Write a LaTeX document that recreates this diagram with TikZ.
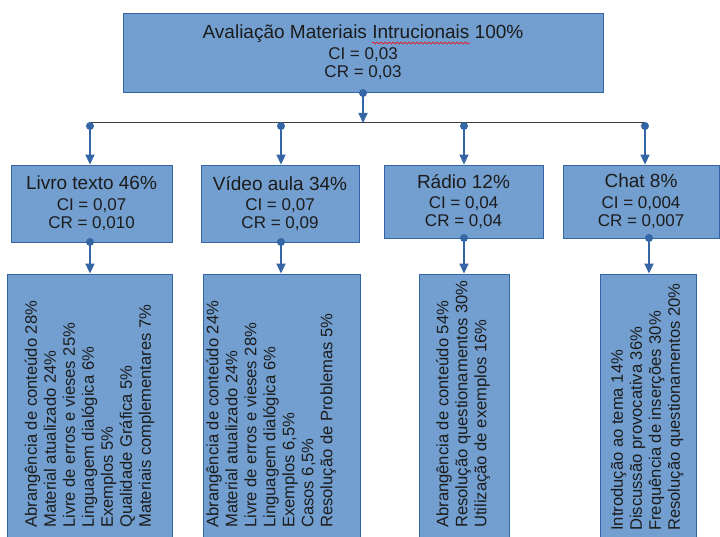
\documentclass[tikz,border=0pt]{standalone}
\usepackage{fontspec}
\setmainfont{Liberation Sans}
\usetikzlibrary{arrows.meta,decorations.pathmorphing}
\definecolor{boxfill}{HTML}{729FCF}
\definecolor{boxline}{HTML}{3465A4}
\definecolor{txt}{HTML}{1C1C1C}
\begin{document}
\begin{tikzpicture}[x=1pt,y=1pt,
  box/.style={draw=boxline, fill=boxfill, line width=0.8pt, inner sep=0pt, text=txt},
  lvl/.style={box, align=center, font=\fontsize{17}{18.3}\selectfont},
  conn/.style={draw=boxline, line width=1.5pt, -{Triangle[length=10pt,width=9pt]}},
  bar/.style={draw=black!75, line width=1pt},
  dot/.style={circle, fill=boxline, inner sep=0pt, minimum size=8pt},
  items/.style={rotate=90, anchor=west, align=left, inner sep=0pt, text=txt, font=\fontsize{16.6}{19}\selectfont},
  ttl/.style={font=\fontsize{19}{20}\selectfont}
]
\useasboundingbox (0,0) rectangle (720,536);
\clip (0,0) rectangle (720,536);

% top box
\node[lvl, minimum width=480pt, minimum height=79pt] (main) at (363,483.5)
  {{\fontsize{19}{20}\selectfont Avaliação Materiais Intrucionais 100\%}\\[2.4pt]CI = 0,03\\CR = 0,03};
\draw[red, line width=0.6pt, decorate, decoration={snake, amplitude=0.9pt, segment length=4pt}]
  (372,493) -- (470,493);

% level 2
\node[lvl, minimum width=161pt, minimum height=77pt] (livro) at (91.5,332.5)
  {{\fontsize{19}{20}\selectfont Livro texto 46\%}\\[2pt]CI = 0,07\\CR = 0,010};
\node[lvl, minimum width=158pt, minimum height=77pt] (video) at (280,332.5)
  {{\fontsize{19}{20}\selectfont Vídeo aula 34\%}\\[2pt]CI = 0,07\\CR = 0,09};
\node[lvl, minimum width=159pt, minimum height=73pt] (radio) at (463.5,334.5)
  {{\fontsize{19}{20}\selectfont Rádio 12\%}\\[2pt]CI = 0,04\\CR = 0,04};
\node[lvl, minimum width=156pt, minimum height=73pt] (chat) at (641,334.5)
  {{\fontsize{19}{20}\selectfont Chat 8\%}\\[2pt]CI = 0,004\\CR = 0,007};

% level 3 boxes
\node[box, minimum width=165pt, minimum height=272pt] (livroI) at (89.5,126) {};
\node[box, minimum width=157pt, minimum height=272pt] (videoI) at (281.5,126) {};
\node[box, minimum width=90pt, minimum height=272pt] (radioI) at (464,126) {};
\node[box, minimum width=96pt, minimum height=272pt] (chatI) at (648,126) {};

\node[items] (livroT) at (89.5,8) {Abrangência de conteúdo 28\%\\Material atualizado 24\%\\Livre de erros e vieses 25\%\\Linguagem dialógica 6\%\\Exemplos 5\%\\Qualidade Gráfica 5\%\\Materiais complementares 7\%};
\node[items] (videoT) at (271,8) {Abrangência de conteúdo 24\%\\Material atualizado 24\%\\Livre de erros e vieses 28\%\\Linguagem dialógica 6\%\\Exemplos 6,5\%\\Casos 6,5\%\\Resolução de Problemas 5\%};
\node[items] (radioT) at (463,8) {Abrangência de conteúdo 54\%\\Resolução questionamentos 30\%\\Utilização de exemplos 16\%};
\node[items] (chatT) at (647,5) {Introdução ao tema 14\%\\Discussão provocativa 36\%\\Frequência de inserções 30\%\\Resolução questionamentos 20\%};

% coordinates
\coordinate (dtop) at (363,443);
\coordinate (barL) at (90,413);
\coordinate (barR) at (645,413);
\coordinate (b1) at (90,410);
\coordinate (b2) at (281,410);
\coordinate (b3) at (464,410);
\coordinate (b4) at (645,410);
\coordinate (e1) at (90,294);
\coordinate (e2) at (281,294);
\coordinate (e3) at (464,298);
\coordinate (e4) at (649,298);

% connectors
\draw[bar] (barL) -- (barR);
\draw[conn] (dtop) -- (dtop |- barL);
\draw[conn] (b1) -- (b1 |- livro.north);
\draw[conn] (b2) -- (b2 |- video.north);
\draw[conn] (b3) -- (b3 |- radio.north);
\draw[conn] (b4) -- (b4 |- chat.north);
\draw[conn] (e1) -- (e1 |- livroI.north);
\draw[conn] (e2) -- (e2 |- videoI.north);
\draw[conn] (e3) -- (e3 |- radioI.north);
\draw[conn] (e4) -- (e4 |- chatI.north);

% dots
\foreach \p in {dtop,b1,b2,b3,b4,e1,e2,e3,e4}
  \node[dot] at (\p) {};
\end{tikzpicture}
\end{document}
